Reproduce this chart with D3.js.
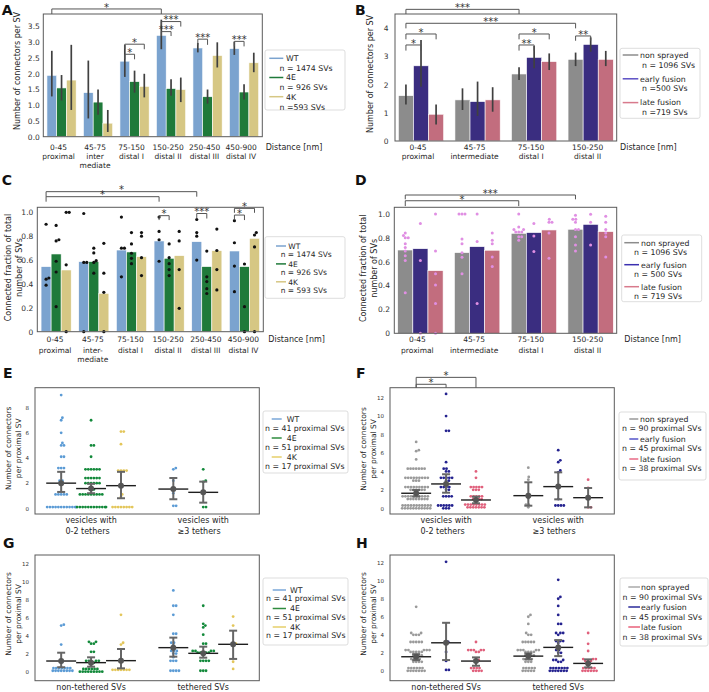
<!DOCTYPE html>
<html><head><meta charset="utf-8">
<script src="https://cdn.jsdelivr.net/npm/d3@7"></script>
<style>body{margin:0;background:#fff}text{font-family:"DejaVu Sans",sans-serif}</style>
</head><body><script>
// ---------------- DATA ----------------
const distCats6A = [["0-45","proximal"],["45-75","inter","mediate"],["75-150","distal I"],["150-250","distal II"],["250-450","distal III"],["450-900","distal IV"]];
const distCats6C = [["0-45","proximal"],["45-75","inter-","mediate"],["75-150","distal I"],["150-250","distal II"],["250-450","distal III"],["450-900","distal IV"]];
const distCats4 = [["0-45","proximal"],["45-75","intermediate"],["75-150","distal I"],["150-250","distal II"]];
const mutants = ["WT","4E","4K"];
const fusion = ["non sprayed","early fusion","late fusion"];
const nA = ["n = 1474 SVs","n = 926 SVs","n =593 SVs"];
const nC = ["n = 1474 SVs","n = 926 SVs","n = 593 SVs"];
const nB = ["n = 1096 SVs","n =500 SVs","n =719 SVs"];
const nD = ["n = 1096 SVs","n = 500 SVs","n = 719 SVs"];
const nE = ["n = 41 proximal SVs","n = 51 proximal SVs","n = 17 proximal SVs"];
const nF = ["n = 90 proximal SVs","n = 45 proximal SVs","n = 38 proximal SVs"];
const groupsEF = [["vesicles with","0-2 tethers"],["vesicles with","\u22653 tethers"]];
const groupsGH = [["non-tethered SVs"],["tethered SVs"]];

const ticksA = [0,0.5,1,1.5,2,2.5,3,3.5];
const ticksB = [0,1,2,3,4];
const ticksCD = [0,0.2,0.4,0.6,0.8,1.0];
const ticksE = [0,2,4,6,8];
const ticksFGH = [0,2,4,6,8,10,12];

// Panel A
const A_WT = [1.95,1.40,2.40,3.22,2.82,2.80];
const A_4E = [1.55,1.10,1.75,1.53,1.27,1.42];
const A_4K = [1.80,0.43,1.60,1.50,2.58,2.35];
const A_WT_ci = [[1.28,2.73],[0.58,2.42],[1.90,2.92],[2.78,3.72],[2.68,2.98],[2.60,3.02]];
const A_4E_ci = [[1.15,1.96],[0.70,1.50],[1.40,2.10],[1.30,1.83],[1.05,1.50],[1.18,1.67]];
const A_4K_ci = [[0.85,2.92],[0.15,0.85],[1.25,2.00],[1.10,1.88],[2.20,3.00],[2.05,2.67]];
const A_sig = [[0,0,3,0,4.06,3.90,"*"],[2,0,2,2,2.94,2.78,"*"],[2,0,2,1,2.62,2.46,"*"],
  [3,0,3,2,3.66,3.50,"***"],[3,0,3,1,3.34,3.20,"***"],[4,0,4,1,3.10,2.92,"***"],[5,0,5,1,3.03,2.87,"***"]];

// Panel B
const B_ns = [1.61,1.46,2.38,2.90];
const B_ef = [2.67,1.40,2.97,3.43];
const B_lf = [0.95,1.46,2.82,2.90];
const B_ns_ci = [[1.30,2.01],[1.10,1.87],[2.17,2.62],[2.66,3.14]];
const B_ef_ci = [[1.93,3.59],[0.89,2.11],[2.58,3.37],[3.17,3.68]];
const B_lf_ci = [[0.59,1.30],[1.04,1.91],[2.52,3.11],[2.66,3.20]];
const B_sig = [[0,0,2,0,4.675,4.51,"***"],[0,0,3,0,4.18,4.00,"***"],[0,0,0,2,3.80,3.61,"*"],[0,0,0,1,3.41,3.21,"*"],
  [2,0,2,2,3.80,3.61,"*"],[2,0,2,1,3.41,3.21,"**"],[3,0,3,1,3.73,3.56,"**"]];

// Panel C
const C_WT = [0.545,0.587,0.684,0.760,0.754,0.676];
const C_4E = [0.651,0.587,0.668,0.615,0.545,0.545];
const C_4K = [0.517,0.321,0.628,0.637,0.679,0.782];
const C_WT_dots = [[0.90,0.45,0.44,0.39],[0.99,0.58,0.58,0.0],[0.96,0.70,0.70,0.46],[0.96,0.84,0.77,0.59],[0.94,0.83,0.80,0.60],[0.93,0.745,0.55,0.335]];
const C_4E_dots = [[0.89,0.77,0.76,0.59,0.50,0.21],[0.70,0.66,0.595,0.58,0.49],[0.83,0.735,0.657,0.615,0.57],[0.735,0.62,0.57,0.52,0.47],[0.675,0.46,0.42,0.36,0.32],[0.567,0.21,0.0]];
const C_4K_dots = [[1.0,1.0,0.56,0.0],[0.74,0.49,0.33,0.0],[0.83,0.80,0.62,0.47],[0.84,0.76,0.52,0.196],[0.86,0.68,0.52,0.35],[0.83,0.81,0.71,0.0]];
const C_sig = [[0,0,4,0,1.173,1.131,"*"],[0,0,3,0,1.131,1.089,"*"],[3,0,3,1,0.972,0.935,"*"],[4,0,4,1,0.99,0.948,"***"],
  [5,0,5,2,1.033,0.996,"*"],[5,0,5,1,0.977,0.935,"*"]];

// Panel D
const D_ns = [0.698,0.676,0.838,0.872];
const D_ef = [0.709,0.726,0.844,0.913];
const D_lf = [0.525,0.696,0.866,0.852];
const D_ns_dots = [[0.84,0.82,0.80,0.80,0.75,0.72,0.69,0.65,0.61,0.34],[1.0,1.0,1.0,0.79,0.75,0.676,0.637,0.50],[1.0,0.89,0.87,0.87,0.85,0.85,0.85,0.81,0.81,0.78],[0.99,0.955,0.955,0.93,0.87,0.87,0.81,0.74,0.69]];
const D_ef_dots = [[0.92,0.61,0.0],[1.0,0.77,0.25],[0.92,0.815,0.685],[0.997,0.93,0.74]];
const D_lf_dots = [[1.0,0.69,0.50,0.405,0.25,0.0],[0.84,0.78,0.75,0.64,0.56],[0.955,0.93,0.93,0.84,0.63],[0.98,0.93,0.87,0.84,0.81,0.64]];
const D_sig = [[0,0,3,0,1.159,1.123,"***"],[0,0,2,0,1.111,1.066,"*"]];

// Panels E-H: per group, [value, number of dots at that value]
const E_WT = [[[9.0,1],[7.2,1],[7.0,1],[6.0,1],[5.2,1],[5.0,2],[4.1,2],[3.2,3],[2.2,2],[2.0,1],[1.1,5],[0.1,12]],[[3.2,1],[3.1,1],[2.2,1],[1.2,1],[0.2,2]]];
const E_4E = [[[7.0,1],[5.0,2],[4.1,1],[3.1,6],[2.4,6],[2.0,6],[1.5,2],[1.1,9],[0.1,12]],[[3.1,1],[2.2,1],[2.1,1],[0.1,2]]];
const E_4K = [[[6.1,2],[5.1,1],[3.0,4],[1.1,1],[0.9,1],[0.1,8]],[]];
const E_WT_mean = [2.0,1.53], E_4E_mean = [1.57,1.27], E_4K_mean = [1.8,null];
const E_WT_ci = [[1.3,2.9],[0.72,2.41]], E_4E_ci = [[1.2,1.95],[0.45,2.12]], E_4K_ci = [[0.8,2.9],null];

const F_ns = [[[7.2,1],[6.3,1],[6.2,1],[5.3,1],[4.3,7],[3.3,9],[3.0,3],[2.3,9],[2.0,6],[1.3,10],[1.0,8],[0.3,11],[0.0,11]],[[4.4,1],[3.4,1],[3.1,1],[1.1,1],[0.4,2],[0.1,1]]];
const F_ef = [[[12.4,1],[10.0,1],[8.4,2],[5.0,1],[4.3,2],[4.0,2],[3.3,5],[3.0,2],[2.3,4],[2.0,2],[1.3,4],[0.3,6],[0.0,3]],[[6.3,1],[5.2,1],[5.0,1],[4.1,1],[3.9,1],[1.0,1],[0.3,4]]];
const F_lf = [[[4.0,1],[3.3,1],[2.3,5],[2.0,3],[1.3,5],[1.0,4],[0.4,8],[0.1,7]],[[3.1,1],[2.2,1],[1.2,1],[0.1,2]]];
const F_ns_mean = [1.63,1.37], F_ef_mean = [2.64,2.35], F_lf_mean = [0.90,1.15];
const F_ns_ci = [[1.28,1.98],[0.28,2.82]], F_ef_ci = [[1.69,3.69],[0.97,3.90]], F_lf_ci = [[0.54,1.26],[0.10,2.20]];
const F_sig = [[0,0,0,2,14.2,13.08,"*"],[0,0,0,1,13.45,13.08,"*"]];

const G_WT = [[[5.2,1],[5.1,1],[3.0,1],[1.0,1],[0.4,7],[0.1,8]],[[9.0,1],[7.3,2],[6.3,1],[4.2,2],[3.2,2],[2.9,1],[2.3,3],[2.0,2],[1.6,1],[1.2,3],[0.1,4]]];
const G_4E = [[[3.3,2],[3.1,2],[2.2,2],[1.2,4],[1.0,2],[0.3,6],[0.0,9]],[[7.3,1],[5.3,1],[5.1,1],[4.9,1],[4.1,1],[3.1,2],[2.3,4],[2.1,5],[1.2,4],[0.1,3]]];
const G_4K = [[[6.3,1],[3.2,1],[3.0,1],[1.2,1],[0.2,7]],[[6.1,1],[5.1,1],[3.1,2],[1.1,1],[0.3,1]]];
const G_WT_mean = [1.18,2.66], G_4E_mean = [1.0,2.03], G_4K_mean = [1.22,3.03];
const G_WT_ci = [[0.49,2.1],[1.66,3.77]], G_4E_ci = [[0.55,1.59],[1.55,2.77]], G_4K_ci = [[0.37,2.51],[1.41,4.54]];

const H_ns = [[[7.1,1],[4.2,2],[4.0,3],[3.2,5],[2.3,5],[2.1,5],[1.7,4],[1.3,4],[1.0,4],[0.3,6],[0.0,7]],[[6.2,1],[6.0,1],[5.2,1],[4.2,1],[4.0,2],[3.2,5],[2.3,5],[2.1,4],[1.7,4],[1.3,4],[1.0,3],[0.3,5],[0.0,5]]];
const H_ef = [[[12.1,1],[3.2,1],[3.0,1],[2.1,1],[1.1,1],[0.1,2]],[[10.1,1],[8.2,1],[8.0,1],[7.2,1],[6.2,1],[5.2,2],[4.2,3],[4.0,1],[3.3,3],[3.1,1],[2.3,2],[2.0,2],[1.2,3],[1.0,2],[0.3,7],[0.0,7]]];
const H_lf = [[[3.2,1],[2.3,5],[2.1,2],[1.2,2],[0.3,4],[0.0,4]],[[4.2,1],[3.0,1],[2.2,1],[1.3,3],[1.1,3],[0.3,5],[0.0,6]]];
const H_ns_mean = [1.56,1.63], H_ef_mean = [3.11,2.60], H_lf_mean = [1.08,0.82];
const H_ns_ci = [[1.19,1.85],[1.27,1.93]], H_ef_ci = [[1.19,5.33],[1.63,3.41]], H_lf_ci = [[0.56,1.49],[0.38,1.27]];

// ---------------- COLORS ----------------
const colBarMut = ["#7ba3cf","#1f7a3a","#d6c784"];
const colBarFus = ["#8c8c8c","#3a2d80","#c26d7e"];
const colDotMut = ["#5b9bd5","#12893a","#e3c65a"];
const colDotFus = ["#9a9a9a","#24228f","#e0607c"];
const colLegB = ["#8c8c8c","#5b4fc4","#d87a8c"];
const colLegMutE = ["#7aa7d8","#2e8b3e","#e6cf6a"];
const colLegF = ["#999999","#5555c8","#e86a86"];
const colLegH = ["#aaaaaa","#2a2a9a","#e8607a"];

// ---------------- DRAW ----------------
const svg = d3.select("body").append("svg").attr("width",709).attr("height",692);
const TXT = "#262626";

function swarm(vals, cx, y, d, half){
  const pts = vals.map(v=>({v,py:y(v)})).sort((a,b)=>b.py-a.py);
  const placed = [];
  pts.forEach(p=>{
    const cands=[0];
    placed.forEach(q=>{const dy=p.py-q.py; if(Math.abs(dy)<d){const dx=Math.sqrt(d*d-dy*dy); cands.push(q.ox+dx,q.ox-dx);}});
    cands.sort((a,b)=>Math.abs(a)-Math.abs(b)||b-a);
    let ox=null;
    for(const c of cands){ if(placed.every(q=>{const dx=c-q.ox,dy=p.py-q.py;return dx*dx+dy*dy>=d*d-1e-6;})){ox=c;break;} }
    if(ox===null) ox=cands[cands.length-1];
    if(half!=null) ox=Math.max(-half,Math.min(half,ox));
    p.ox=ox; placed.push(p);
  });
  return placed.map(p=>({x:cx+p.ox,y:p.py}));
}

function letter(x,y,s){ svg.append("text").attr("x",x).attr("y",y).attr("font-family","Liberation Sans, Arial, sans-serif").attr("font-weight","bold").attr("font-size",14).attr("fill","#111").text(s); }

function ylabel(xs,yc,lines,fs){
  lines.forEach((ln,i)=>svg.append("text").attr("transform",`translate(${xs[i]+fs*0.36},${yc}) rotate(-90)`)
    .attr("text-anchor","middle").attr("font-size",fs).attr("fill",TXT).text(ln));
}

function yAxis(g,y,l,ticks,fmt,fs,pad){
  const ax=g.append("g").attr("transform",`translate(${l},0)`).call(d3.axisLeft(y).tickValues(ticks).tickFormat(fmt).tickSize(0).tickPadding(pad));
  ax.select(".domain").remove();
  ax.selectAll("text").attr("font-size",fs).attr("fill","#333").attr("font-family","DejaVu Sans");
}

function frame(g,o){ g.append("rect").attr("x",o.l).attr("y",o.t).attr("width",o.r-o.l).attr("height",o.b-o.t).attr("fill","none").attr("stroke","#5a5a5a").attr("stroke-width",1); }

function sig(g,list,cx,y){
  list.forEach(([c1,s1,c2,s2,yl,yt,lab])=>{
    const x1=cx(c1,s1),x2=cx(c2,s2);
    g.append("path").attr("d",`M${x1},${y(yt)}V${y(yl)}H${x2}V${y(yt)}`).attr("fill","none").attr("stroke","#555").attr("stroke-width",1);
    g.append("text").attr("x",(x1+x2)/2).attr("y",y(yl)+1.8).attr("text-anchor","middle").attr("font-size",10).attr("fill","#333").text(lab);
  });
}

function legend(o){
  svg.append("rect").attr("x",o.bx).attr("y",o.by).attr("width",o.bw).attr("height",o.bh).attr("rx",2)
    .attr("fill","#fff").attr("stroke","#d4d4d4").attr("stroke-width",0.8);
  o.names.forEach((nm,i)=>{
    const yy=o.y0+i*o.dy;
    svg.append("line").attr("x1",o.hx1).attr("x2",o.hx2).attr("y1",yy).attr("y2",yy).attr("stroke",o.colors[i]).attr("stroke-width",1.5);
    svg.append("text").attr("x",o.lx).attr("y",yy+2.8).attr("font-size",o.fs).attr("fill",TXT).text(nm);
    svg.append("text").attr("x",o.nx).attr("y",yy+o.ndy+2.8).attr("font-size",o.fs).attr("fill",TXT).text(o.ns[i]);
  });
}

function barPanel(o){
  const g=svg.append("g");
  const n=o.cats.length,m=o.series.length;
  const x=d3.scaleBand().domain(d3.range(n)).range([o.l,o.r]).paddingInner(0.2).paddingOuter(o.po);
  const xs=d3.scaleBand().domain(d3.range(m)).range([0,x.bandwidth()]);
  const y=d3.scaleLinear().domain(o.yd).range([o.b,o.t]);
  const cx=(c,s)=>x(c)+xs(s)+xs.bandwidth()/2;
  o.series.forEach((s,si)=>{
    g.append("g").selectAll("rect").data(s.vals).join("rect")
      .attr("x",(d,i)=>x(i)+xs(si)).attr("y",d=>y(d)).attr("width",xs.bandwidth()).attr("height",d=>y(0)-y(d))
      .attr("fill",s.color).attr("stroke","#fff").attr("stroke-width",0.6);
  });
  o.series.forEach((s,si)=>{
    if(s.ci) g.append("g").selectAll("line").data(s.ci).join("line")
      .attr("x1",(d,i)=>cx(i,si)).attr("x2",(d,i)=>cx(i,si)).attr("y1",d=>y(d[0])).attr("y2",d=>y(d[1]))
      .attr("stroke","#404040").attr("stroke-width",1.7);
    if(s.dots) s.dots.forEach((arr,i)=>{
      const pts=swarm(arr,cx(i,si),y,o.dotD,null);
      g.append("g").selectAll("circle").data(pts).join("circle").attr("cx",d=>d.x).attr("cy",d=>d.y).attr("r",o.dotR).attr("fill",o.dotColor);
    });
  });
  frame(g,o);
  yAxis(g,y,o.l,o.ticks,o.fmt,7.5,o.tp);
  o.cats.forEach((lines,i)=>{
    const xc=x(i)+x.bandwidth()/2+o.ls;
    lines.forEach((ln,j)=>g.append("text").attr("x",xc).attr("y",o.ly[j]).attr("text-anchor","middle").attr("font-size",7.5).attr("fill",TXT).text(ln));
  });
  g.append("text").attr("x",o.dx).attr("y",o.ly[0]).attr("font-size",8).attr("fill",TXT).text("Distance [nm]");
  sig(g,o.sig,cx,y);
}

function swarmPanel(o){
  const g=svg.append("g");
  const x=d3.scaleBand().domain(d3.range(o.groups.length)).range([o.l,o.r]);
  const dw=x.bandwidth()*0.8/3;
  const y=d3.scaleLinear().domain(o.yd).range([o.b,o.t]);
  const cx=(c,s)=>x(c)+x.bandwidth()/2+(s-1)*dw;
  o.series.forEach((s,si)=>{
    s.data.forEach((pairs,gi)=>{
      const vals=[]; pairs.forEach(([v,k])=>{for(let j=0;j<k;j++)vals.push(v);});
      const pts=swarm(vals,cx(gi,si),y,2.8,dw/2);
      g.append("g").selectAll("circle").data(pts).join("circle").attr("cx",d=>d.x).attr("cy",d=>d.y).attr("r",1.4).attr("fill",s.dot);
    });
  });
  o.series.forEach((s,si)=>{
    s.mean.forEach((mv,gi)=>{
      if(mv==null) return;
      const c=cx(gi,si),ci=s.ci[gi];
      g.append("line").attr("x1",c-dw/2).attr("x2",c+dw/2).attr("y1",y(mv)).attr("y2",y(mv)).attr("stroke","#1e1e1e").attr("stroke-width",1.4);
      g.append("line").attr("x1",c).attr("x2",c).attr("y1",y(ci[0])).attr("y2",y(ci[1])).attr("stroke","#666").attr("stroke-width",2);
      [ci[0],ci[1]].forEach(v=>g.append("line").attr("x1",c-4).attr("x2",c+4).attr("y1",y(v)).attr("y2",y(v)).attr("stroke","#666").attr("stroke-width",2));
      g.append("circle").attr("cx",c).attr("cy",y(mv)).attr("r",3).attr("fill","#555");
    });
  });
  frame(g,o);
  yAxis(g,y,o.l,o.ticks,d3.format("d"),5.5,6);
  o.groups.forEach((lines,i)=>{
    const xc=x(i)+x.bandwidth()/2;
    const ts=lines.map((ln,j)=>g.append("text").attr("y",o.ly[j]).attr("font-size",8).attr("fill",TXT).text(ln));
    const w=d3.max(ts,t=>t.node().getComputedTextLength());
    ts.forEach(t=>t.attr("x",xc-w/2));
  });
  if(o.sig) sig(g,o.sig,cx,y);
}

// Panel A
barPanel({l:43.3,r:262.3,t:14,b:136.7,yd:[0,3.90],po:0.1,cats:distCats6A,ticks:ticksA,fmt:d3.format(".1f"),tp:3.5,
  series:[{vals:A_WT,ci:A_WT_ci,color:colBarMut[0]},{vals:A_4E,ci:A_4E_ci,color:colBarMut[1]},{vals:A_4K,ci:A_4K_ci,color:colBarMut[2]}],
  ls:-3,ly:[149.5,158.5,167.8],dx:265.7,sig:A_sig});
// Panel B
barPanel({l:395,r:616.7,t:14,b:141,yd:[0,4.51],po:0.06,cats:distCats4,ticks:ticksB,fmt:d3.format("d"),tp:6.5,
  series:[{vals:B_ns,ci:B_ns_ci,color:colBarFus[0]},{vals:B_ef,ci:B_ef_ci,color:colBarFus[1]},{vals:B_lf,ci:B_lf_ci,color:colBarFus[2]}],
  ls:-3,ly:[149.5,158.5],dx:620,sig:B_sig});
// Panel C
const fmtCD = v=>v===0?"0":d3.format(".1f")(v);
barPanel({l:37.3,r:263.3,t:207.3,b:331.7,yd:[0,1.042],po:0.1,cats:distCats6C,ticks:ticksCD,fmt:fmtCD,tp:4,
  series:[{vals:C_WT,dots:C_WT_dots,color:colBarMut[0]},{vals:C_4E,dots:C_4E_dots,color:colBarMut[1]},{vals:C_4K,dots:C_4K_dots,color:colBarMut[2]}],
  dotR:1.6,dotD:3.0,dotColor:"#111",ls:-1,ly:[342.2,352.8,361.8],dx:268.3,sig:C_sig});
// Panel D
barPanel({l:394.3,r:616.7,t:207.3,b:333.3,yd:[0,1.056],po:0.06,cats:distCats4,ticks:ticksCD,fmt:fmtCD,tp:4.3,
  series:[{vals:D_ns,dots:D_ns_dots,color:colBarFus[0]},{vals:D_ef,dots:D_ef_dots,color:colBarFus[1]},{vals:D_lf,dots:D_lf_dots,color:colBarFus[2]}],
  dotR:1.5,dotD:3.0,dotColor:"#e08fe3",ls:-3,ly:[342.2,352.8],dx:624.3,sig:D_sig});

// Panel E-H
swarmPanel({l:35,r:259.3,t:387.7,b:514,yd:[-0.453,9.59],ticks:ticksE,groups:groupsEF,ly:[523,533.7],
  series:[{data:E_WT,mean:E_WT_mean,ci:E_WT_ci,dot:colDotMut[0]},{data:E_4E,mean:E_4E_mean,ci:E_4E_ci,dot:colDotMut[1]},{data:E_4K,mean:E_4K_mean,ci:E_4K_ci,dot:colDotMut[2]}]});
swarmPanel({l:390,r:614.3,t:387.7,b:514,yd:[-0.62,13.08],ticks:ticksFGH,groups:groupsEF,ly:[523,533.7],sig:F_sig,
  series:[{data:F_ns,mean:F_ns_mean,ci:F_ns_ci,dot:colDotFus[0]},{data:F_ef,mean:F_ef_mean,ci:F_ef_ci,dot:colDotFus[1]},{data:F_lf,mean:F_lf_mean,ci:F_lf_ci,dot:colDotFus[2]}]});
swarmPanel({l:35,r:259.3,t:555,b:680.7,yd:[-1.0,12.92],ticks:ticksFGH,groups:groupsGH,ly:[689.7],
  series:[{data:G_WT,mean:G_WT_mean,ci:G_WT_ci,dot:colDotMut[0]},{data:G_4E,mean:G_4E_mean,ci:G_4E_ci,dot:colDotMut[1]},{data:G_4K,mean:G_4K_mean,ci:G_4K_ci,dot:colDotMut[2]}]});
swarmPanel({l:390,r:614.3,t:555,b:680.7,yd:[-1.1,12.86],ticks:ticksFGH,groups:groupsGH,ly:[689.7],
  series:[{data:H_ns,mean:H_ns_mean,ci:H_ns_ci,dot:colDotFus[0]},{data:H_ef,mean:H_ef_mean,ci:H_ef_ci,dot:colDotFus[1]},{data:H_lf,mean:H_lf_mean,ci:H_lf_ci,dot:colDotFus[2]}]});

// Y labels
ylabel([17.3],71,["Number of connectors per SV"],8);
ylabel([370],74,["Number of connectors per SV"],8);
ylabel([8.3,19.3],267.5,["Connected fraction of total","number of SVs"],8);
ylabel([363.3,374.3],268.3,["Connected fraction of total","number of SVs"],8);
ylabel([8.3,18.3],448.3,["Number of connectors","per proximal SV"],7.5);
ylabel([363.3,373.3],449,["Number of connectors","per proximal SV"],7.5);
ylabel([8.3,18.3],614,["Number of connectors","per proximal SV"],7.5);
ylabel([363.3,373.3],614,["Number of connectors","per proximal SV"],7.5);

// Legends
legend({bx:265,by:50,bw:80,bh:60,hx1:269.3,hx2:283.3,lx:286,nx:279.5,y0:58.3,dy:19.2,ndy:10,fs:7.8,names:mutants,ns:nA,colors:colBarMut});
legend({bx:620,by:48.3,bw:80,bh:70,hx1:622.7,hx2:638.3,lx:640,nx:642,y0:55,dy:23.8,ndy:9.8,fs:7.8,names:fusion,ns:nB,colors:colLegB});
legend({bx:265,by:236.7,bw:80,bh:61.6,hx1:276,hx2:286,lx:288.3,nx:280.7,y0:246,dy:17.9,ndy:7.9,fs:7.5,names:mutants,ns:nC,colors:colBarMut});
legend({bx:621.7,by:235,bw:80,bh:66.7,hx1:624.3,hx2:639,lx:641,nx:634,y0:242.7,dy:22,ndy:9,fs:7.8,names:fusion,ns:nD,colors:["#8c8c8c","#3b30b0","#d87a8c"]});
legend({bx:263,by:411,bw:85,bh:62,hx1:271.7,hx2:281.7,lx:286.7,nx:265,y0:419,dy:19,ndy:9.3,fs:7.8,names:mutants,ns:nE,colors:colLegMutE});
legend({bx:619,by:412,bw:87,bh:68,hx1:629.3,hx2:638.3,lx:640,nx:622,y0:419,dy:20,ndy:9.5,fs:7.8,names:fusion,ns:nF,colors:colLegF});
legend({bx:263,by:578,bw:85,bh:67,hx1:272.7,hx2:286,lx:290,nx:266,y0:590,dy:18.5,ndy:8.5,fs:7.8,names:mutants,ns:nE,colors:colLegMutE});
legend({bx:620,by:578,bw:88,bh:68,hx1:628.3,hx2:640,lx:641,nx:622.5,y0:587,dy:20,ndy:10,fs:7.8,names:fusion,ns:nF,colors:colLegH});

// Panel letters
letter(1.7,15,"A"); letter(355,15,"B"); letter(1.7,185,"C"); letter(355,185,"D");
letter(3,378.3,"E"); letter(356,378.3,"F"); letter(3,548.3,"G"); letter(356,548.3,"H");
</script></body></html>
